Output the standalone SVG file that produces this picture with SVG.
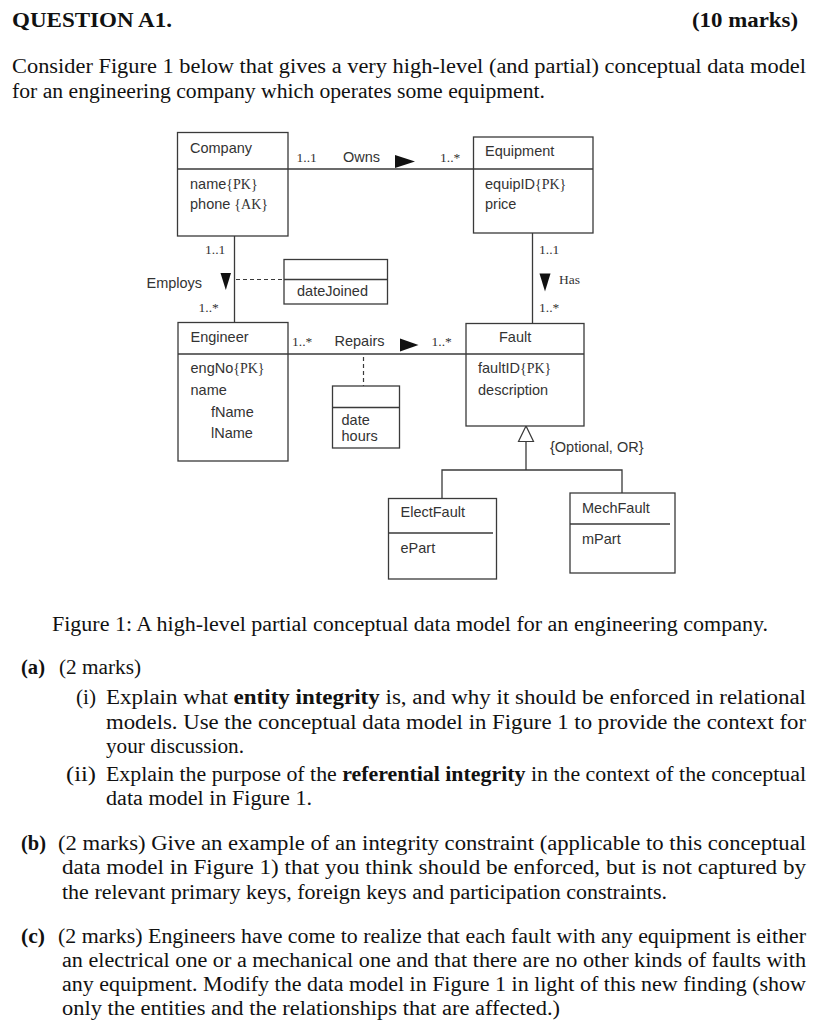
<svg xmlns="http://www.w3.org/2000/svg" width="817" height="1024" viewBox="0 0 817 1024">
<style>
.box{fill:#fff;stroke:#3a3a3a;stroke-width:1.3}
.ln{fill:none;stroke:#3a3a3a;stroke-width:1.3}
.dash{fill:none;stroke:#3a3a3a;stroke-width:1.2;stroke-dasharray:4 3}
.tri{fill:#111;stroke:none}
.s{font-family:"Liberation Sans",Arial,sans-serif;font-size:14.5px;fill:#333}
.sr{font-family:"Liberation Serif","Times New Roman",serif;font-size:14px;fill:#333}
.c{font-family:"Liberation Serif","Times New Roman",serif;font-size:13.5px;fill:#333}
.t{font-family:"Liberation Serif","Times New Roman",serif;font-size:20px;fill:#111}
.b{font-weight:bold}
</style>
<rect width="817" height="1024" fill="#fff"/>

<g id="header">
<text class="t b" x="12" y="27" textLength="160" lengthAdjust="spacingAndGlyphs">QUESTION A1.</text>
<text class="t b" x="692" y="27" textLength="106" lengthAdjust="spacingAndGlyphs">(10 marks)</text>
<text class="t" x="12" y="73" textLength="794" lengthAdjust="spacingAndGlyphs">Consider Figure 1 below that gives a very high-level (and partial) conceptual data model</text>
<text class="t" x="12" y="98" textLength="533" lengthAdjust="spacingAndGlyphs">for an engineering company which operates some equipment.</text>
</g>

<g id="connectors">
<line class="ln" x1="288" y1="169" x2="473" y2="169"/>
<polygon class="tri" points="395,155 415,161.5 395,168"/>
<line class="ln" x1="234.5" y1="236" x2="234.5" y2="322"/>
<polygon class="tri" points="220.5,273 231,273 225.8,290"/>
<line class="dash" x1="236" y1="279.5" x2="284" y2="279.5"/>
<line class="ln" x1="532.5" y1="233" x2="532.5" y2="323"/>
<polygon class="tri" points="539.5,273.5 550.5,273.5 545,291.5"/>
<line class="ln" x1="288" y1="354" x2="466" y2="354"/>
<polygon class="tri" points="400,338.5 418.5,345 400,351.5"/>
<line class="dash" x1="363.5" y1="357" x2="363.5" y2="386"/>
<polygon points="526,426 518.5,441.5 533.5,441.5" fill="#fff" stroke="#3a3a3a" stroke-width="1.2"/>
<polyline class="ln" points="526,441.5 526,470"/>
<polyline class="ln" points="442,498 442,470 622,470 622,493"/>
</g>

<g id="connector-labels">
<text class="c" x="296.5" y="162">1..1</text>
<text class="s" x="343" y="162">Owns</text>
<text class="c" x="440" y="162">1..*</text>
<text class="c" x="205" y="254">1..1</text>
<text class="s" x="146.5" y="288">Employs</text>
<text class="c" x="198.5" y="312">1..*</text>
<text class="c" x="539" y="254">1..1</text>
<text class="c" x="559" y="284">Has</text>
<text class="c" x="539" y="312">1..*</text>
<text class="c" x="292" y="346">1..*</text>
<text class="s" x="334.5" y="346">Repairs</text>
<text class="c" x="431.5" y="346">1..*</text>
<text class="s" x="550" y="452" font-size="13.5">{Optional, OR}</text>
</g>

<g id="company">
<rect class="box" x="177.5" y="132.5" width="110.5" height="103.5"/>
<line class="ln" x1="177.5" y1="169" x2="288" y2="169"/>
<text class="s" x="190" y="153">Company</text>
<text class="s" x="190" y="189">name<tspan class="sr">{PK}</tspan></text>
<text class="s" x="190" y="209">phone <tspan class="sr">{AK}</tspan></text>
</g>

<g id="equipment">
<rect class="box" x="473.5" y="137" width="119.5" height="96"/>
<line class="ln" x1="473.5" y1="169" x2="593" y2="169"/>
<text class="s" x="485" y="156">Equipment</text>
<text class="s" x="485" y="189">equipID<tspan class="sr">{PK}</tspan></text>
<text class="s" x="485" y="209">price</text>
</g>

<g id="employs-attr">
<rect class="box" x="284" y="259.5" width="103.5" height="44.5"/>
<line class="ln" x1="284" y1="279.5" x2="387.5" y2="279.5"/>
<text class="s" x="297" y="296" font-size="14">dateJoined</text>
</g>

<g id="engineer">
<rect class="box" x="178" y="322.5" width="110" height="138.5"/>
<line class="ln" x1="178" y1="354" x2="288" y2="354"/>
<text class="s" x="190.5" y="342">Engineer</text>
<text class="s" x="190.5" y="373">engNo<tspan class="sr">{PK}</tspan></text>
<text class="s" x="190.5" y="395">name</text>
<text class="s" x="211" y="417">fName</text>
<text class="s" x="211" y="438">lName</text>
</g>

<g id="fault">
<rect class="box" x="466" y="323.5" width="118" height="102.5"/>
<line class="ln" x1="466" y1="354" x2="584" y2="354"/>
<text class="s" x="499" y="342">Fault</text>
<text class="s" x="478" y="373">faultID<tspan class="sr">{PK}</tspan></text>
<text class="s" x="478" y="395">description</text>
</g>

<g id="repairs-attr">
<rect class="box" x="332.5" y="386" width="67" height="62"/>
<line class="ln" x1="332.5" y1="407.5" x2="399.5" y2="407.5"/>
<text class="s" x="341.5" y="425">date</text>
<text class="s" x="341.5" y="441">hours</text>
</g>

<g id="electfault">
<rect class="box" x="388.5" y="498.5" width="108" height="80.5"/>
<line class="ln" x1="388.5" y1="533" x2="493" y2="533"/>
<text class="s" x="400.5" y="517">ElectFault</text>
<text class="s" x="400.5" y="553">ePart</text>
</g>

<g id="mechfault">
<rect class="box" x="570" y="493" width="105" height="80"/>
<line class="ln" x1="570" y1="524" x2="670" y2="524"/>
<text class="s" x="582" y="513">MechFault</text>
<text class="s" x="582" y="544">mPart</text>
</g>

<g id="questions">
<text class="t" x="52" y="631" textLength="716" lengthAdjust="spacingAndGlyphs">Figure 1: A high-level partial conceptual data model for an engineering company.</text>
<text class="t b" x="21" y="674" textLength="24" lengthAdjust="spacingAndGlyphs">(a)</text>
<text class="t" x="59" y="674" textLength="82" lengthAdjust="spacingAndGlyphs">(2 marks)</text>
<text class="t" x="76" y="704" textLength="20" lengthAdjust="spacingAndGlyphs">(i)</text>
<text class="t" x="106" y="704" textLength="700" lengthAdjust="spacingAndGlyphs">Explain what <tspan class="b">entity integrity</tspan> is, and why it should be enforced in relational</text>
<text class="t" x="106" y="729" textLength="700" lengthAdjust="spacingAndGlyphs">models. Use the conceptual data model in Figure 1 to provide the context for</text>
<text class="t" x="106" y="753" textLength="138" lengthAdjust="spacingAndGlyphs">your discussion.</text>
<text class="t" x="66" y="781" textLength="30" lengthAdjust="spacingAndGlyphs">(ii)</text>
<text class="t" x="106" y="781" textLength="700" lengthAdjust="spacingAndGlyphs">Explain the purpose of the <tspan class="b">referential integrity</tspan> in the context of the conceptual</text>
<text class="t" x="106" y="805" textLength="206" lengthAdjust="spacingAndGlyphs">data model in Figure 1.</text>

<text class="t b" x="21" y="850" textLength="25" lengthAdjust="spacingAndGlyphs">(b)</text>
<text class="t" x="58" y="850" textLength="748" lengthAdjust="spacingAndGlyphs">(2 marks) Give an example of an integrity constraint (applicable to this conceptual</text>
<text class="t" x="62" y="874" textLength="744" lengthAdjust="spacingAndGlyphs">data model in Figure 1) that you think should be enforced, but is not captured by</text>
<text class="t" x="62" y="899" textLength="605" lengthAdjust="spacingAndGlyphs">the relevant primary keys, foreign keys and participation constraints.</text>

<text class="t b" x="21" y="943" textLength="24" lengthAdjust="spacingAndGlyphs">(c)</text>
<text class="t" x="58" y="943" textLength="748" lengthAdjust="spacingAndGlyphs">(2 marks) Engineers have come to realize that each fault with any equipment is either</text>
<text class="t" x="62" y="967" textLength="744" lengthAdjust="spacingAndGlyphs">an electrical one or a mechanical one and that there are no other kinds of faults with</text>
<text class="t" x="62" y="991" textLength="744" lengthAdjust="spacingAndGlyphs">any equipment. Modify the data model in Figure 1 in light of this new finding (show</text>
<text class="t" x="62" y="1015" textLength="498" lengthAdjust="spacingAndGlyphs">only the entities and the relationships that are affected.)</text>
</g>
</svg>
